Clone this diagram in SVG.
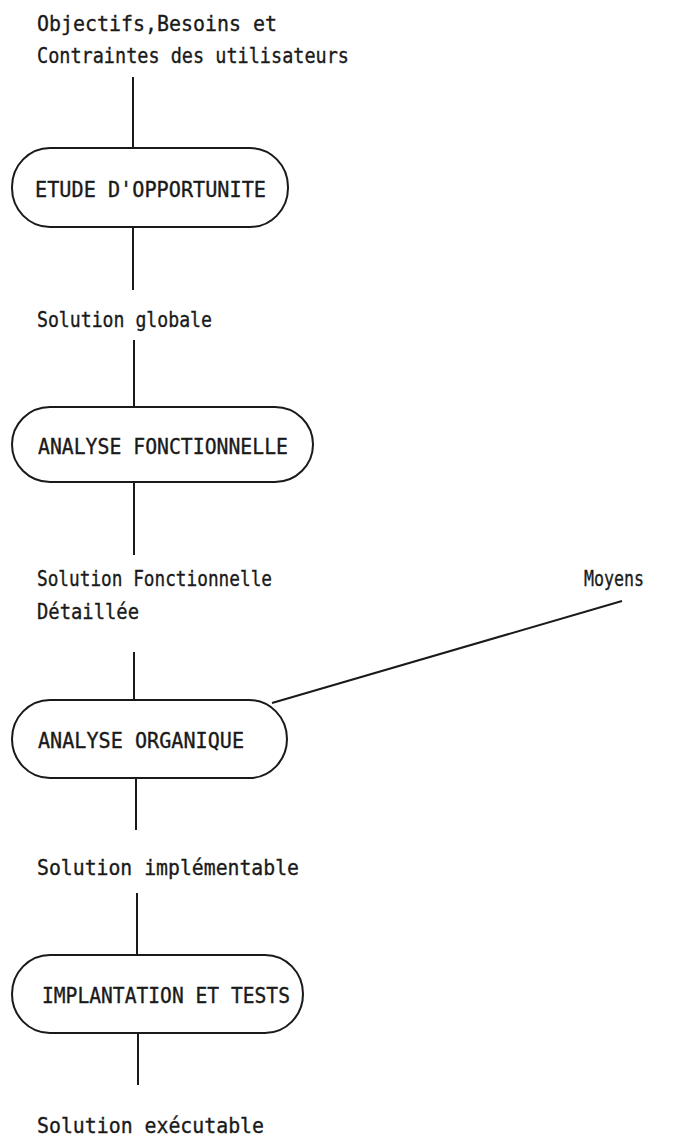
<svg xmlns="http://www.w3.org/2000/svg" width="690" height="1143" viewBox="0 0 690 1143">
<style>
.t{font-family:"DejaVu Sans Mono","Liberation Mono",monospace;font-size:21px;fill:#1a1a1a;stroke:#1a1a1a;stroke-width:0.35}
.b{fill:none;stroke:#1a1a1a;stroke-width:2}
.c{stroke:#1a1a1a;stroke-width:2;fill:none}
</style>
<rect width="690" height="1143" fill="#ffffff"/>
<g id="labels">
<text class="t" x="37" y="31" textLength="240" lengthAdjust="spacingAndGlyphs">Objectifs,Besoins et</text>
<text class="t" x="37" y="63" textLength="312" lengthAdjust="spacingAndGlyphs">Contraintes des utilisateurs</text>
<text class="t" x="37" y="327" textLength="175" lengthAdjust="spacingAndGlyphs">Solution globale</text>
<text class="t" x="37" y="586" textLength="235" lengthAdjust="spacingAndGlyphs">Solution Fonctionnelle</text>
<text class="t" x="37" y="619" textLength="102" lengthAdjust="spacingAndGlyphs">Détaillée</text>
<text class="t" x="584" y="586" textLength="60" lengthAdjust="spacingAndGlyphs">Moyens</text>
<text class="t" x="37" y="875" textLength="262" lengthAdjust="spacingAndGlyphs">Solution implémentable</text>
<text class="t" x="37" y="1133" textLength="227" lengthAdjust="spacingAndGlyphs">Solution exécutable</text>
</g>
<g id="node-etude">
<rect class="b" x="12" y="148" width="276" height="79" rx="38" ry="39"/>
<text class="t" x="35" y="197" textLength="231" lengthAdjust="spacingAndGlyphs">ETUDE D'OPPORTUNITE</text>
</g>
<g id="node-analyse-fonctionnelle">
<rect class="b" x="12" y="407" width="301" height="75" rx="38" ry="37.5"/>
<text class="t" x="38" y="454" textLength="250" lengthAdjust="spacingAndGlyphs">ANALYSE FONCTIONNELLE</text>
</g>
<g id="node-analyse-organique">
<rect class="b" x="12" y="700" width="275" height="78" rx="38" ry="39"/>
<text class="t" x="38" y="748" textLength="206" lengthAdjust="spacingAndGlyphs">ANALYSE ORGANIQUE</text>
</g>
<g id="node-implantation">
<rect class="b" x="12" y="955" width="291" height="78" rx="38" ry="39"/>
<text class="t" x="42" y="1003" textLength="248" lengthAdjust="spacingAndGlyphs">IMPLANTATION ET TESTS</text>
</g>
<g id="connectors">
<line class="c" x1="133" y1="77" x2="133" y2="148"/>
<line class="c" x1="133" y1="227" x2="133" y2="290"/>
<line class="c" x1="134" y1="340" x2="134" y2="407"/>
<line class="c" x1="134" y1="482" x2="134" y2="555"/>
<line class="c" x1="134" y1="652" x2="134" y2="700"/>
<line class="c" x1="136" y1="778" x2="136" y2="830"/>
<line class="c" x1="137" y1="893" x2="137" y2="955"/>
<line class="c" x1="138" y1="1033" x2="138" y2="1085"/>
<line class="c" x1="622" y1="601" x2="272" y2="703"/>
</g>
</svg>
